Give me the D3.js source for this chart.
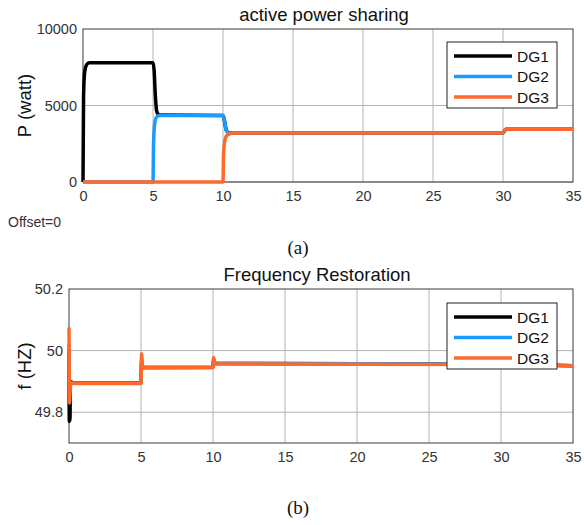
<!DOCTYPE html>
<html>
<head>
<meta charset="utf-8">
<script src="https://cdn.jsdelivr.net/npm/d3@7"></script>
<style>
  body { margin: 0; background: #fff; }
  text { font-family: "Liberation Sans", Arial, sans-serif; }
</style>
</head>
<body>
<svg id="chart" width="584" height="525"></svg>
<script>
// ---- data (time in s) ----
var xTicks = [0, 5, 10, 15, 20, 25, 30, 35] ;
var seriesNames = ['DG1', 'DG2', 'DG3'] ;
var seriesColors = ['#000000', '#1c9bff', '#ff6a2c'] ;

// active power (W)
var powerTicks = [0, 5000, 10000] ;
var powerDG1 = [[0,0],[0.04,5600],[0.12,7200],[0.25,7650],[0.45,7800],[5,7800],[5.08,7300],[5.17,5600],[5.27,4600],[5.45,4380],[10,4350],[10.08,4100],[10.25,3350],[10.5,3200],[30,3200],[30.2,3450],[35,3450]] ;
var powerDG2 = [[0,0],[5,0],[5.04,2500],[5.12,3800],[5.25,4250],[5.5,4350],[10,4350],[10.08,4100],[10.25,3350],[10.5,3200],[30,3200],[30.2,3450],[35,3450]] ;
var powerDG3 = [[0,0],[10,0],[10.04,1900],[10.15,2800],[10.35,3100],[10.8,3200],[30,3200],[30.2,3450],[35,3450]] ;

// frequency (Hz)
var freqTicks = [49.8, 50, 50.2] ;
var freqDG1 = [[0,50.0],[0.02,49.77],[0.07,49.78],[0.1,49.9],[0.3,49.895],[5,49.895],[5.04,49.965],[5.12,49.945],[10,49.946],[10.04,49.97],[10.15,49.958],[30,49.956],[35,49.951]] ;
var freqDG2 = [[0,50.02],[0.04,49.86],[0.1,49.897],[0.3,49.895],[5,49.895],[5.04,49.975],[5.12,49.945],[10,49.946],[10.04,49.972],[10.15,49.958],[30,49.956],[35,49.951]] ;
var freqDG3 = [[0,50.075],[0.04,49.83],[0.1,49.895],[0.3,49.893],[5,49.893],[5.04,49.99],[5.12,49.944],[10,49.944],[10.04,49.978],[10.15,49.957],[30,49.955],[35,49.95]] ;

var svg = d3.select('#chart') ;
svg.append('rect').attr('width',584).attr('height',525).attr('fill','#fff') ;

function drawPanel(p) {
	var x = d3.scaleLinear().domain([0,35]).range([p.left,p.right]) ;
	var y = d3.scaleLinear().domain(p.yDomain).range([p.bottom,p.top]) ;
	var g = svg.append('g') ;

	// grid
	g.append('g').selectAll('line').data(xTicks.slice(1,-1)).join('line')
		.attr('x1',d => x(d)).attr('x2',d => x(d)).attr('y1',p.top).attr('y2',p.bottom)
		.attr('stroke','#b4b4b4').attr('stroke-width',1) ;
	g.append('g').selectAll('line').data(p.yTicks.filter(d => y(d) > p.top + 1)).join('line')
		.attr('x1',p.left).attr('x2',p.right).attr('y1',d => y(d)).attr('y2',d => y(d))
		.attr('stroke','#b4b4b4').attr('stroke-width',1) ;

	// box
	g.append('rect').attr('x',p.left).attr('y',p.top)
		.attr('width',p.right-p.left).attr('height',p.bottom-p.top)
		.attr('fill','none').attr('stroke','#3a3a3a').attr('stroke-width',1) ;

	// series
	var line = d3.line().x(d => x(d[0])).y(d => y(d[1])).curve(d3.curveMonotoneX) ;
	p.series.forEach(function(s, i) {
		g.append('path').attr('d',line(s)).attr('fill','none')
			.attr('stroke',seriesColors[i]).attr('stroke-width',p.lineWidth)
			.attr('stroke-linejoin','round') ;
	}) ;

	// axes (labels only, ticks drawn as grid)
	var xa = g.append('g').attr('transform','translate(0,'+p.bottom+')')
		.call(d3.axisBottom(x).tickValues(xTicks).tickSize(0).tickPadding(p.xPad)) ;
	var ya = g.append('g').attr('transform','translate('+p.left+',0)')
		.call(d3.axisLeft(y).tickValues(p.yTicks).tickSize(0).tickPadding(6).tickFormat(p.yFormat)) ;
	[xa, ya].forEach(function(a) {
		a.select('.domain').remove() ;
		a.selectAll('text').attr('fill','#333').style('font-size','14.5px')
			.style('font-family','"Liberation Sans", Arial, sans-serif') ;
	}) ;

	// title and y label
	g.append('text').attr('x',(p.left+p.right)/2 - 4).attr('y',p.titleY)
		.attr('text-anchor','middle').attr('fill','#111').style('font-size','18.5px').text(p.title) ;
	g.append('text').attr('transform','translate('+p.yLabelX+','+((p.top+p.bottom)/2)+') rotate(-90)')
		.attr('text-anchor','middle').attr('fill','#111').style('font-size','18.5px').text(p.yLabel) ;

	// legend
	var lg = g.append('g') ;
	lg.append('rect').attr('x',447).attr('y',p.legendTop).attr('width',110).attr('height',66)
		.attr('fill','#fff').attr('stroke','#222').attr('stroke-width',1) ;
	seriesNames.forEach(function(n, i) {
		var ly = p.legendTop + 14 + i*20.5 ;
		lg.append('line').attr('x1',454).attr('x2',512).attr('y1',ly).attr('y2',ly)
			.attr('stroke',seriesColors[i]).attr('stroke-width',3.5) ;
		lg.append('text').attr('x',517).attr('y',ly).attr('dy','0.36em')
			.attr('fill','#111').style('font-size','15.5px').text(n) ;
	}) ;
}

drawPanel({
	left: 83, right: 573, top: 29, bottom: 182,
	yDomain: [0,10000], yTicks: powerTicks, yFormat: d3.format('d'),
	series: [powerDG1, powerDG2, powerDG3], lineWidth: 3.5, xPad: 9,
	title: 'active power sharing', titleY: 21, yLabel: 'P (watt)', yLabelX: 31,
	legendTop: 42
}) ;

drawPanel({
	left: 69, right: 573, top: 289, bottom: 443,
	yDomain: [49.7,50.2], yTicks: freqTicks, yFormat: d => String(d),
	series: [freqDG1, freqDG2, freqDG3], lineWidth: 3.5, xPad: 9,
	title: 'Frequency Restoration', titleY: 281, yLabel: 'f (HZ)', yLabelX: 31,
	legendTop: 303
}) ;

svg.append('text').attr('x',8).attr('y',227).attr('fill','#333').style('font-size','14px').text('Offset=0') ;
svg.append('text').attr('x',298).attr('y',254).attr('text-anchor','middle').attr('fill','#111')
	.style('font-family','"Liberation Serif", "Times New Roman", serif').style('font-size','19px').text('(a)') ;
svg.append('text').attr('x',298).attr('y',514).attr('text-anchor','middle').attr('fill','#111')
	.style('font-family','"Liberation Serif", "Times New Roman", serif').style('font-size','19px').text('(b)') ;
</script>
</body>
</html>
